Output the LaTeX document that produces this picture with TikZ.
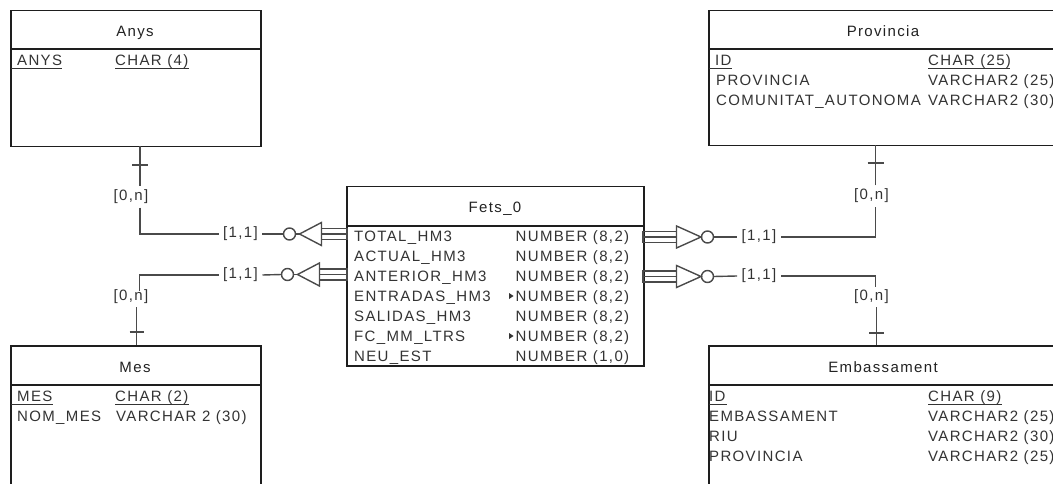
\documentclass[tikz,border=0pt]{standalone}
\usepackage{fontspec}
\setmainfont{Liberation Sans}[LetterSpace=9]
\definecolor{txtc}{HTML}{333333}
\definecolor{ttlc}{HTML}{222222}
\definecolor{boxc}{HTML}{1E1E1E}
\definecolor{lnc}{HTML}{4A4A4A}
\newcommand\fsz{\fontsize{15}{17}\selectfont}
\tikzset{
  ent/.style={draw=boxc, line width=1.5pt, inner sep=0pt, anchor=north west},
  sepline/.style={draw=boxc, line width=1.5pt},
  fld/.style={anchor=base west, inner sep=0pt, font=\fsz, text=txtc},
  ttl/.style={anchor=base, inner sep=0pt, font=\fsz, text=ttlc},
  card/.style={inner xsep=4.5pt, inner ysep=3.5pt, font=\fsz, text=txtc},
  conn/.style={draw=lnc, line width=1.4pt},
  keyline/.style={draw=txtc, line width=1pt},
  % zero-or-one end on the left side of a table, #1 = length of the bar
  pics/fkleft/.style={code={
    \draw[conn] (-#1,-5.5) rectangle (0,5.5);
    \draw[conn] (-#1,0) -- (0,0);
    \draw[conn, line join=miter] (-#1,-11.5) -- (-#1-22,0) -- (-#1,11.5) -- cycle;
    \draw[conn] (-#1-22,0) -- (-#1-26,0);
    \draw[conn] (-#1-32,0) circle[radius=6pt];
    \coordinate (-tip) at (-#1-38,0);
  }},
  % zero-or-one end on the right side of a table
  pics/fkright/.style={code={
    \draw[conn] (0,-5.5) rectangle (#1,5.5);
    \draw[conn] (0,0) -- (#1,0);
    \draw[conn, line join=miter] (#1,-11) -- (#1+24.5,0) -- (#1,11) -- cycle;
    \draw[conn] (#1+24.5,0) -- (#1+25,0);
    \draw[conn] (#1+31,0) circle[radius=6pt];
    \coordinate (-tip) at (#1+37,0);
  }},
  marker/.style={fill=txtc}
}
\begin{document}
\begin{tikzpicture}[x=1pt,y=-1pt]
\path[use as bounding box, clip] (0,0) rectangle (1053,484);
\fill[white] (0,0) rectangle (1053,484);

% ---------- tables ----------
\node[ent, minimum width=250pt, minimum height=136pt] (anys) at (10,10) {};
\draw[sepline] (10,49) -- (260,49);
\node[ent, minimum width=350pt, minimum height=135pt] (prov) at (708,10) {};
\draw[sepline] (708,49) -- (1058,49);
\node[ent, minimum width=297pt, minimum height=179pt] (fets) at (346,186) {};
\draw[sepline] (346,226) -- (643,226);
\node[ent, minimum width=250pt, minimum height=160pt] (mes) at (10,345) {};
\draw[sepline] (10,385) -- (260,385);
\node[ent, minimum width=350pt, minimum height=160pt] (emb) at (708,345) {};
\draw[sepline] (708,385) -- (1058,385);

% ---------- Anys ----------
\node[ttl] (anysT) at (135,36.5) {Anys};
\node[fld] (anysK) at (17,65.5) {ANYS};
\node[fld] (anysKt) at (115,65.5) {CHAR (4)};
\draw[keyline] (11,68.5) -- (62,68.5);
\draw[keyline] (115,68.5) -- (189,68.5);

% ---------- Provincia ----------
\node[ttl] (provT) at (883,36.5) {Provincia};
\node[fld] (provK) at (715,65.5) {ID};
\node[fld] (provKt) at (928,65.5) {CHAR (25)};
\node[fld] (provF1) at (716,85.5) {PROVINCIA};
\node[fld] (provF1t) at (928,85.5) {VARCHAR2 (25)};
\node[fld] (provF2) at (716,105.5) {COMUNITAT\_AUTONOMA};
\node[fld] (provF2t) at (928,105.5) {VARCHAR2 (30)};
\draw[keyline] (709,68.5) -- (732,68.5);
\draw[keyline] (928,68.5) -- (1010,68.5);

% ---------- Fets_0 ----------
\node[ttl] (fetsT) at (495,212) {Fets\_0};
\foreach \n/\t [count=\i from 0] in {TOTAL\_HM3/{NUMBER (8,2)}, ACTUAL\_HM3/{NUMBER (8,2)},
    ANTERIOR\_HM3/{NUMBER (8,2)}, ENTRADAS\_HM3/{NUMBER (8,2)}, SALIDAS\_HM3/{NUMBER (8,2)},
    FC\_MM\_LTRS/{NUMBER (8,2)}, NEU\_EST/{NUMBER (1,0)}} {
  \node[fld] (fetsF\i) at (354,241.5+20*\i) {\n};
  \node[fld] (fetsT\i) at (515.5,241.5+20*\i) {\t};
}
\fill[marker] (509,293) -- (513.5,296) -- (509,299) -- cycle;
\fill[marker] (509,333) -- (513.5,336) -- (509,339) -- cycle;

% ---------- Mes ----------
\node[ttl] (mesT) at (135,372.5) {Mes};
\node[fld] (mesK) at (17,401.5) {MES};
\node[fld] (mesKt) at (115,401.5) {CHAR (2)};
\node[fld] (mesF1) at (17,421.5) {NOM\_MES};
\node[fld] (mesF1t) at (116,421.5) {VARCHAR 2 (30)};
\draw[keyline] (11,404.5) -- (53,404.5);
\draw[keyline] (115,404.5) -- (189,404.5);

% ---------- Embassament ----------
\node[ttl] (embT) at (883,372) {Embassament};
\node[fld] (embK) at (709,401.5) {ID};
\node[fld] (embKt) at (928,401.5) {CHAR (9)};
\node[fld] (embF1) at (709,421.5) {EMBASSAMENT};
\node[fld] (embF1t) at (928,421.5) {VARCHAR2 (25)};
\node[fld] (embF2) at (709,441.5) {RIU};
\node[fld] (embF2t) at (928,441.5) {VARCHAR2 (30)};
\node[fld] (embF3) at (709,461.5) {PROVINCIA};
\node[fld] (embF3t) at (928,461.5) {VARCHAR2 (25)};
\draw[keyline] (709,404.5) -- (727,404.5);
\draw[keyline] (928,404.5) -- (1002,404.5);

% ---------- Anys -- Fets_0 ----------
\coordinate (pa) at (140,146);
\node[card] (ca) at (131,197) {[0,n]};
\node[card] (ka) at (240.5,234) {[1,1]};
\pic (La) at (347,234) {fkleft=25.5};
\draw[conn] (pa) -- (ca.north -| pa);
\draw[conn] (ca.south -| pa) |- (ka.west);
\draw[conn] (132,165) -- (148,165);
\draw[conn] (ka.east) -- (La-tip);

% ---------- Mes -- Fets_0 ----------
\coordinate (pm) at (136.5,345);
\coordinate (pmc) at (139.5,275);
\node[card] (cm) at (131,296.5) {[0,n]};
\node[card] (km) at (240.5,275) {[1,1]};
\pic (Lm) at (347,274.5) {fkleft=27.5};
\draw[conn] (km.west) -- (pmc) -- (139.5,291);
\draw[conn] (cm.south -| pm) -- (pm);
\draw[conn] (129.5,332) -- (143.5,332);
\draw[conn] (km.east) -- (Lm-tip);

% ---------- Fets_0 -- Provincia ----------
\coordinate (pp) at (875.5,145);
\node[card] (cp) at (871.5,196) {[0,n]};
\node[card] (kp) at (759,237) {[1,1]};
\pic (Rp) at (643,237) {fkright=33.5};
\draw[conn] (Rp-tip) -- (kp.west);
\draw[conn] (kp.east) -| (cp.south -| pp);
\draw[conn] (cp.north -| pp) -- (pp);
\draw[conn] (867.5,163) -- (883.5,163);

% ---------- Fets_0 -- Embassament ----------
\coordinate (pe) at (876.5,345);
\coordinate (pec) at (875.5,276);
\node[card] (ce) at (871.5,296.5) {[0,n]};
\node[card] (ke) at (759,276) {[1,1]};
\pic (Re) at (643,276.5) {fkright=33.5};
\draw[conn] (Re-tip) -- (ke.west);
\draw[conn] (ke.east) -- (pec) -- (875.5,287);
\draw[conn] (ce.south -| pe) -- (pe);
\draw[conn] (869,333) -- (884,333);
\end{tikzpicture}
\end{document}
